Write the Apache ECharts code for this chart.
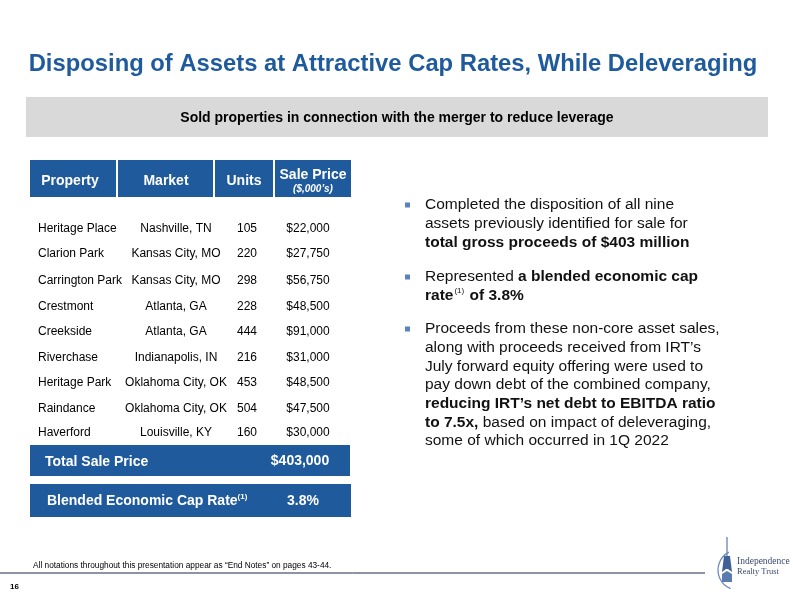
<!DOCTYPE html>
<html><head><meta charset="utf-8">
<script src="https://cdn.jsdelivr.net/npm/echarts@6/dist/echarts.min.js"></script>
<style>html,body{margin:0;padding:0;background:#fff}#c{width:793px;height:596px}</style>
</head><body><div id="c"></div>
<script>
const title = 'Disposing of Assets at Attractive Cap Rates, While Deleveraging';
const subtitle = 'Sold properties in connection with the merger to reduce leverage';
const headers = ['Property', 'Market', 'Units', 'Sale Price'];
const headerNote = '($,000\u2019s)';
const properties = ['Heritage Place', 'Clarion Park', 'Carrington Park', 'Crestmont', 'Creekside', 'Riverchase', 'Heritage Park', 'Raindance', 'Haverford'];
const markets = ['Nashville, TN', 'Kansas City, MO', 'Kansas City, MO', 'Atlanta, GA', 'Atlanta, GA', 'Indianapolis, IN', 'Oklahoma City, OK', 'Oklahoma City, OK', 'Louisville, KY'];
const units = [105, 220, 298, 228, 444, 216, 453, 504, 160];
const salePrices = [22000, 27750, 56750, 48500, 91000, 31000, 48500, 47500, 30000];
const totalLabel = 'Total Sale Price';
const totalSalePrice = 403000;
const capLabel = 'Blended Economic Cap Rate';
const capRate = 3.8;
const bullets = [
  ['Completed the disposition of all nine', 'assets previously identified for sale for', '{b|total gross proceeds of $403 million}'],
  ['Represented {b|a blended economic cap}', '{b|rate}{sup|(1)}{b| of 3.8%}'],
  ['Proceeds from these non-core asset sales,', 'along with proceeds received from IRT\u2019s', 'July forward equity offering were used to', 'pay down debt of the combined company,', '{b|reducing IRT\u2019s net debt to EBITDA ratio}', '{b|to 7.5x,} based on impact of deleveraging,', 'some of which occurred in 1Q 2022']
];
const footnote = 'All notations throughout this presentation appear as \u201cEnd Notes\u201d on pages 43-44.';
const pageNumber = '16';
const logoLines = ['Independence', 'Realty Trust'];

const FF = '"Liberation Sans", Arial, sans-serif';
const BLUE = '#1F5A9C';
const money = v => '$' + v.toLocaleString('en-US');

const el = [];
function txt(x, y, text, o) {
  o = o || {};
  el.push({ type: 'text', silent: true, style: Object.assign({
    x: x, y: y, text: text, fill: o.fill || '#000',
    fontFamily: o.fontFamily || FF, fontSize: o.fontSize || 12, fontWeight: o.fontWeight || 'normal',
    fontStyle: o.fontStyle || 'normal',
    textAlign: o.align || 'left', textVerticalAlign: o.valign || 'middle'
  }, o.extra || {}) });
}
function rect(x, y, w, h, fill) {
  el.push({ type: 'rect', silent: true, shape: { x: x, y: y, width: w, height: h }, style: { fill: fill } });
}

// title
txt(393, 64, title, { fill: BLUE, fontSize: 23.8, fontWeight: 'bold', align: 'center' });
// banner
rect(26, 97, 742, 40, '#D9D9D9');
txt(397, 118, subtitle, { fontSize: 14, fontWeight: 'bold', align: 'center' });

// table header
const colBox = [[30, 116], [118, 213], [215, 273], [275, 351]];
const hdrCx = [70, 166, 244, 313];
colBox.forEach((b, i) => rect(b[0], 160, b[1] - b[0], 37, BLUE));
headers.forEach((h, i) => {
  if (i === 3) {
    txt(hdrCx[i], 175, h, { fill: '#fff', fontSize: 14, fontWeight: 'bold', align: 'center' });
    txt(hdrCx[i], 189, headerNote, { fill: '#fff', fontSize: 10, fontWeight: 'bold', fontStyle: 'italic', align: 'center' });
  } else {
    txt(hdrCx[i], 181, h, { fill: '#fff', fontSize: 14, fontWeight: 'bold', align: 'center' });
  }
});

// rows
const rowY = [229, 254, 281, 307, 332, 358, 383, 409, 433];
properties.forEach((p, i) => {
  const y = rowY[i];
  txt(38, y, p, { fontSize: 12 });
  txt(176, y, markets[i], { fontSize: 12, align: 'center' });
  txt(247, y, String(units[i]), { fontSize: 12, align: 'center' });
  txt(308, y, money(salePrices[i]), { fontSize: 12, align: 'center' });
});

// total & cap rate bars
rect(30, 445, 320, 31, BLUE);
txt(45, 462, totalLabel, { fill: '#fff', fontSize: 14, fontWeight: 'bold' });
txt(300, 461, money(totalSalePrice), { fill: '#fff', fontSize: 14, fontWeight: 'bold', align: 'center' });
rect(30, 484, 321, 33, BLUE);
txt(47, 501, '{b|' + capLabel + '}{s|(1)}', { fill: '#fff', fontSize: 14, fontWeight: 'bold',
  extra: { rich: { b: { fill: '#fff', fontSize: 14, fontWeight: 'bold', fontFamily: FF }, s: { fill: '#fff', fontSize: 8, fontWeight: 'bold', fontFamily: FF, verticalAlign: 'top', padding: [0, 0, 8, 0] } } } });
txt(303, 501, capRate.toFixed(1) + '%', { fill: '#fff', fontSize: 14, fontWeight: 'bold', align: 'center' });

// bullets
const bulletTop = [205, 277, 329];
const LH = 18.7;
bullets.forEach((lines, k) => {
  rect(405, bulletTop[k] - 2.5, 5, 5, '#5B82C0');
  lines.forEach((ln, j) => {
    txt(425, bulletTop[k] + j * LH, ln, { fontSize: 15.5, fill: '#111',
      extra: { rich: {
        b: { fontSize: 15.5, fontWeight: 'bold', fontFamily: FF, fill: '#111' },
        sup: { fontSize: 8, fontFamily: FF, fill: '#111', verticalAlign: 'top', padding: [0, 1, 9, 1] }
      } } });
  });
});

// footer
txt(33, 566, footnote, { fontSize: 8.3 });
el.push({ type: 'line', silent: true, shape: { x1: 0, y1: 573, x2: 705, y2: 573 }, style: { stroke: '#1b2b4b', lineWidth: 1 } });
txt(10, 587, pageNumber, { fontSize: 8, fontWeight: 'bold' });

// logo
el.push({ type: 'line', silent: true, shape: { x1: 727, y1: 537, x2: 727, y2: 556 }, style: { stroke: '#7f93b8', lineWidth: 1.5 } });
el.push({ type: 'polygon', silent: true, shape: { points: [[724, 556], [730, 556], [732, 572], [728, 569], [726, 569], [722, 572]] }, style: { fill: '#3f6098' } });
el.push({ type: 'polygon', silent: true, shape: { points: [[722, 574], [727, 571], [732, 574], [732, 582], [722, 582]] }, style: { fill: '#5a7bb0' } });
el.push({ type: 'arc', silent: true, shape: { cx: 738, cy: 570, r: 20, startAngle: Math.PI * 0.62, endAngle: Math.PI * 1.35 }, style: { stroke: '#6d8bbd', lineWidth: 1.3, fill: null } });
txt(737, 561, logoLines[0], { fontSize: 9.5, fontFamily: '"Liberation Serif", serif', fill: '#3a4a6e' });
txt(737, 572, logoLines[1], { fontSize: 8.5, fontFamily: '"Liberation Serif", serif', fill: '#3a4a6e' });

const chart = echarts.init(document.getElementById('c'), null, { renderer: 'canvas' });
chart.setOption({ backgroundColor: '#fff', animation: false, graphic: { elements: el } });
</script></body></html>
